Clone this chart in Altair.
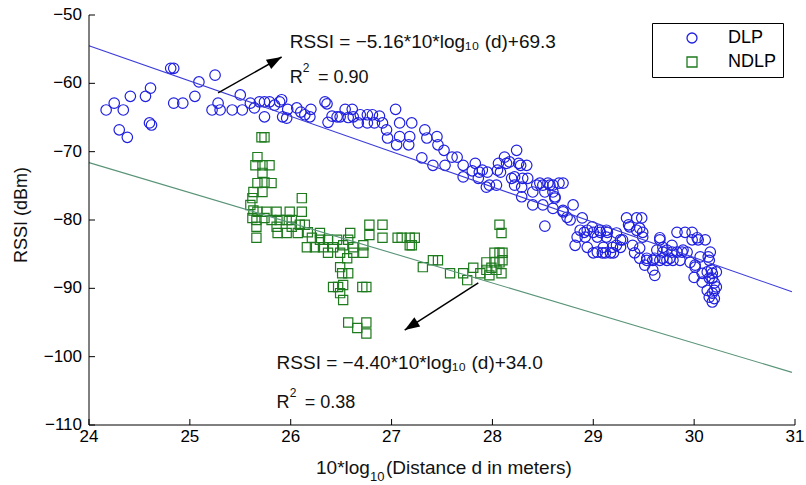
import altair as alt
import pandas as pd

# ---------------- data ----------------
dlp_points = [
    (24.17,-63.9),(24.25,-62.9),(24.34,-63.9),(24.30,-66.8),(24.38,-67.9),(24.41,-61.9),(24.56,-61.9),(24.61,-60.7),(24.60,-65.8),(24.62,-66.1),
    (24.81,-57.8),(24.84,-57.8),(24.84,-62.9),(24.93,-62.9),(25.05,-61.9),(25.09,-59.8),(25.25,-58.8),(25.22,-63.9),(25.28,-62.9),(25.30,-63.9),
    (25.42,-63.9),(25.50,-61.7),(25.52,-63.9),(25.60,-62.9),(25.64,-63.6),(25.69,-62.7),(25.74,-62.7),(25.79,-62.7),(25.84,-63.2),(25.89,-62.7),
    (25.74,-64.9),(25.92,-64.9),(25.97,-63.8),(25.91,-62.4),(25.96,-65.1),(26.06,-63.6),(26.10,-64.2),(26.14,-64.6),(26.19,-64.9),(26.20,-63.8),
    (26.34,-62.7),(26.36,-63.0),(26.37,-65.7),(26.41,-64.8),(26.46,-64.9),(26.49,-64.9),(26.54,-63.8),(26.61,-63.8),(26.57,-65.0),(26.62,-64.9),
    (26.69,-64.6),(26.76,-64.6),(26.81,-64.6),(26.88,-64.8),(26.67,-65.8),(26.76,-65.8),(26.83,-65.8),(26.91,-65.8),(26.95,-66.8),(26.96,-68.0),
    (27.04,-63.8),(27.08,-65.8),(27.20,-65.8),(27.08,-67.8),(27.05,-69.0),(27.18,-67.8),(27.17,-69.0),(27.33,-66.8),(27.35,-68.0),(27.45,-67.8),
    (27.46,-69.0),(27.52,-69.8),(27.30,-70.9),(27.41,-72.0),(27.53,-72.0),(27.60,-70.8),(27.65,-70.8),(27.71,-72.0),(27.71,-73.7),(27.83,-71.7),
    (27.80,-72.8),(27.90,-72.7),(27.86,-73.9),(27.94,-75.2),(28.04,-74.9),(28.05,-72.7),(28.14,-71.7),(28.24,-69.8),(28.28,-72.0),(28.34,-72.0),
    (28.19,-73.9),(28.30,-73.9),(28.35,-73.9),(28.29,-75.2),(28.44,-74.9),(28.50,-74.9),(28.57,-74.9),(28.60,-74.9),(28.40,-75.9),(28.29,-76.6),
    (28.62,-76.6),(28.40,-77.8),(28.60,-78.3),(28.80,-77.8),(28.12,-70.8),(28.06,-71.7),(28.17,-71.5),(28.26,-71.7),(27.87,-73.0),(27.95,-73.0),
    (28.08,-73.0),(28.22,-73.7),(27.97,-74.9),(28.22,-74.9),(28.47,-74.6),(28.55,-74.6),(28.66,-74.6),(28.70,-74.6),(28.52,-75.9),(28.60,-75.9),
    (28.50,-77.8),(28.70,-78.6),(28.74,-79.6),(28.77,-80.0),(28.89,-79.7),(28.52,-80.9),(28.87,-81.5),(28.94,-81.5),(28.99,-81.0),(29.06,-81.5),
    (29.13,-81.5),(28.84,-82.5),(28.92,-82.5),(29.04,-82.5),(29.13,-82.5),(29.23,-81.9),(29.33,-79.7),(29.43,-79.7),(29.36,-81.0),(29.46,-81.2),
    (29.49,-82.5),(29.29,-82.9),(29.39,-83.7),(28.82,-83.7),(28.94,-84.0),(29.04,-84.7),(29.12,-84.8),(29.20,-84.8),(29.10,-84.0),(29.23,-83.7),
    (29.66,-82.6),(29.69,-84.0),(29.63,-84.4),(29.48,-79.7),(29.49,-81.8),(29.46,-84.1),(29.46,-85.6),(29.53,-85.9),(29.59,-85.9),(29.66,-85.9),
    (29.73,-85.9),(29.79,-85.9),(29.86,-85.9),(29.59,-87.3),(29.66,-82.9),(29.69,-84.7),(29.78,-84.7),(29.83,-84.7),(29.88,-84.7),(29.93,-84.7),
    (29.78,-83.7),(29.83,-81.8),(29.91,-81.8),(29.98,-81.8),(30.04,-82.9),(30.11,-82.9),(29.98,-82.9),(29.96,-86.2),(30.01,-86.6),(30.06,-85.4),
    (30.14,-85.4),(30.16,-84.7),(30.00,-88.4),(30.08,-87.8),(30.08,-89.1),(30.13,-87.6),(30.15,-88.5),(30.18,-88.5),(30.20,-89.2),(30.13,-90.3),
    (30.20,-90.3),(30.15,-91.3),(30.18,-92.0),(30.17,-87.3),(30.22,-87.6),(28.62,-76.8),(28.70,-78.8),(28.91,-81.8),(29.00,-81.8),(29.07,-81.8),
    (29.14,-81.8),(29.00,-84.8),(29.09,-84.8),(29.17,-84.8),(29.19,-84.0),(29.27,-84.0),(29.27,-82.9),(29.35,-80.7),(29.43,-81.5),(29.41,-84.8),
    (29.53,-85.6),(29.61,-85.6),(29.69,-85.6),(29.76,-85.6),(29.51,-86.6),(29.61,-88.1),(29.73,-84.4),(30.03,-82.6),(29.89,-84.4),(30.01,-86.9),
    (30.15,-85.9),(30.18,-87.8),(30.18,-90.7),(30.20,-91.5),(30.22,-89.8),
]
ndlp_points = [
    (25.71,-67.9),(25.74,-67.9),(25.67,-70.8),(25.65,-72.0),(25.72,-72.0),(25.79,-72.0),(25.72,-73.1),(25.74,-74.5),(25.67,-74.6),(25.81,-74.6),
    (25.63,-75.9),(25.62,-76.8),(25.72,-75.9),(25.60,-77.8),(26.11,-76.8),(25.63,-78.6),(25.62,-79.7),(25.67,-78.8),(25.76,-78.8),(25.86,-78.8),
    (25.99,-78.8),(26.11,-78.8),(25.66,-80.0),(25.74,-79.7),(25.81,-80.0),(25.89,-80.0),(25.96,-80.0),(26.01,-80.0),(25.66,-81.0),(25.86,-81.0),
    (26.01,-81.0),(26.09,-80.7),(26.14,-80.7),(25.87,-81.9),(25.96,-81.9),(26.07,-81.9),(25.66,-82.6),(26.17,-81.8),(26.21,-82.6),(26.29,-81.9),
    (26.29,-82.9),(26.37,-82.9),(26.46,-82.9),(26.16,-84.0),(26.24,-84.0),(26.32,-84.0),(26.42,-84.0),(26.52,-83.7),(26.59,-81.9),(26.57,-82.9),
    (26.62,-84.0),(26.72,-83.7),(26.78,-82.2),(26.78,-80.7),(26.91,-80.7),(26.91,-82.6),(27.06,-82.6),(27.18,-82.6),(27.20,-83.7),(26.37,-84.8),
    (26.49,-84.8),(26.62,-84.8),(26.72,-84.8),(26.49,-86.9),(26.56,-85.6),(26.51,-87.8),(26.57,-87.8),(26.42,-89.8),(26.47,-89.8),(26.52,-89.5),
    (26.49,-90.7),(26.52,-91.7),(26.71,-89.8),(26.75,-89.8),(26.57,-95.0),(26.66,-95.8),(26.75,-95.0),(26.75,-96.6),
    (27.10,-82.6),(27.18,-83.7),(27.23,-82.6),(27.31,-86.9),(27.41,-85.9),(27.46,-85.9),(27.58,-87.8),(27.71,-87.8),(27.75,-88.8),(27.81,-87.0),
    (27.88,-87.8),(27.94,-86.2),(27.94,-87.3),(27.99,-87.0),(28.02,-84.8),(28.07,-84.8),(28.10,-84.8),(28.02,-86.2),(28.07,-86.2),(28.10,-85.9),
    (27.97,-88.1),(28.09,-87.8),(28.07,-80.7),(28.09,-81.9),(28.04,-87.3),
]
series_names = ["DLP", "NDLP"]
series_colors = ["#2020e0", "#1d7a1d"]
series_shapes = ["circle", "square"]

fit_x = [24.0, 30.97]
fit_dlp_y = [-54.5, -90.5]
fit_ndlp_y = [-71.6, -102.3]

x_ticks = [24, 25, 26, 27, 28, 29, 30, 31]
y_ticks = [-110, -100, -90, -80, -70, -60, -50]

# arrows: (tail x, tail y, tip x, tip y)
arrow1 = (25.28, -61.4, 25.91, -56.15)
arrow2 = (27.86, -89.2, 27.13, -96.1)

FONT = "Liberation Sans"
W, H = 706, 410

xs = alt.Scale(domain=[24, 31], nice=False, zero=False)
ys = alt.Scale(domain=[-110, -50], nice=False, zero=False)
cs = alt.Scale(domain=series_names, range=series_colors)
ss = alt.Scale(domain=series_names, range=series_shapes)

leg = alt.Legend(title=None, orient="none", legendX=563, legendY=8, padding=6,
                 symbolOffset=25, labelOffset=27, fillColor="white", strokeColor="black",
                 labelFontSize=18, labelFont=FONT, labelColor="black", symbolSize=100,
                 symbolStrokeWidth=1.3, rowPadding=6, labelLimit=200)

df_dlp = pd.DataFrame({"x": [p[0] for p in dlp_points], "y": [p[1] for p in dlp_points], "series": "DLP"})
df_ndlp = pd.DataFrame({"x": [p[0] for p in ndlp_points], "y": [p[1] for p in ndlp_points], "series": "NDLP"})

X = lambda f: alt.X(f, scale=xs, axis=None)
Y = lambda f: alt.Y(f, scale=ys, axis=None)

pts_dlp = alt.Chart(df_dlp).mark_point(filled=False, size=110, strokeWidth=1.2, opacity=1).encode(
    x=X("x:Q"), y=Y("y:Q"),
    color=alt.Color("series:N", scale=cs, legend=leg),
    shape=alt.Shape("series:N", scale=ss, legend=leg),
)
pts_ndlp = alt.Chart(df_ndlp).mark_point(filled=False, size=85, strokeWidth=1.2, opacity=1).encode(
    x=X("x:Q"), y=Y("y:Q"),
    color=alt.Color("series:N", scale=cs, legend=leg),
    shape=alt.Shape("series:N", scale=ss, legend=leg),
)

def fit_line(ys_vals, color):
    d = pd.DataFrame({"x": fit_x, "y": ys_vals})
    return alt.Chart(d).mark_line(color=color, strokeWidth=1.1).encode(x=X("x:Q"), y=Y("y:Q"))

line_dlp = fit_line(fit_dlp_y, "#3a3ad8")
line_ndlp = fit_line(fit_ndlp_y, "#5a9478")

# ---- axes drawn by hand (domain, inward ticks, labels) ----
one = pd.DataFrame({"k": [0]})
dom_x = alt.Chart(one).mark_rule(color="black", strokeWidth=1).encode(
    x=alt.value(0), x2=alt.value(W), y=alt.value(H))
dom_y = alt.Chart(one).mark_rule(color="black", strokeWidth=1).encode(
    x=alt.value(0), y=alt.value(0), y2=alt.value(H))
df_xt = pd.DataFrame({"v": x_ticks})
df_yt = pd.DataFrame({"v": y_ticks})
xt = alt.Chart(df_xt).mark_rule(color="black", strokeWidth=1).encode(
    x=X("v:Q"), y=alt.value(H), y2=alt.value(H - 6))
yt = alt.Chart(df_yt).mark_rule(color="black", strokeWidth=1).encode(
    y=Y("v:Q"), x=alt.value(0), x2=alt.value(6))
xl = alt.Chart(df_xt).mark_text(font=FONT, fontSize=17, color="black", align="center",
                                baseline="top").encode(
    x=X("v:Q"), y=alt.value(H + 4), text=alt.Text("v:Q", format="d"))
yl = alt.Chart(df_yt).mark_text(font=FONT, fontSize=17, color="black", align="right",
                                baseline="middle").encode(
    y=Y("v:Q"), x=alt.value(-7), text=alt.Text("v:Q", format="d"))

def arrow(a, angle):
    tx, ty, hx, hy = a
    d = pd.DataFrame({"x": [tx], "y": [ty], "x2": [hx], "y2": [hy]})
    shaft = alt.Chart(d).mark_rule(color="black", strokeWidth=1.5).encode(
        x=X("x:Q"), y=Y("y:Q"), x2="x2:Q", y2="y2:Q")
    head = alt.Chart(d).mark_point(shape="M0,0L-0.36,1L0.36,1Z", filled=True, color="black",
                                   size=900, angle=angle, opacity=1).encode(
        x=X("x2:Q"), y=Y("y2:Q"))
    return shaft + head

def txt(x, y, s, size=18, **kw):
    d = pd.DataFrame({"x": [x], "y": [y]})
    return alt.Chart(d).mark_text(text=s, font=FONT, fontSize=size, color="#111111",
                                  align="left", baseline="alphabetic", **kw).encode(
        x=X("x:Q"), y=Y("y:Q"))

def ptxt(px, py, s, size=17, **kw):
    return alt.Chart(one).mark_text(text=s, font=FONT, fontSize=size, color="#111111", **kw).encode(
        x=alt.value(px), y=alt.value(py))

SUB10 = "\u2081\u2080"
ann = (
    txt(25.99, -54.83, "RSSI = \u22125.16*10*log" + SUB10 + "  (d)+69.3", 19)
    + txt(25.99, -59.96, "R") + txt(26.12, -58.3, "2", 12) + txt(26.27, -59.96, "= 0.90")
    + txt(25.86, -101.83, "RSSI = \u22124.40*10*log" + SUB10 + "  (d)+34.0", 19)
    + txt(25.86, -107.54, "R") + txt(25.99, -105.9, "2", 12) + txt(26.14, -107.54, "= 0.38")
)

titles = (
    ptxt(227, 459, "10*log", 19, align="left", baseline="alphabetic")
    + ptxt(281, 466, "10", 13, align="left", baseline="alphabetic")
    + ptxt(297, 459, "(Distance d in meters)", 19, align="left", baseline="alphabetic")
    + ptxt(-67, 200, "RSSI (dBm)", 18, align="center", baseline="middle", angle=270)
)

chart = alt.layer(
    pts_dlp, pts_ndlp, line_dlp, line_ndlp, dom_x, dom_y, xt, yt, xl, yl,
    arrow(arrow1, 60.6), arrow(arrow2, 237.2), ann, titles,
).properties(
    width=W, height=H,
    autosize=alt.AutoSizeParams(type="none"),
    padding={"left": 89, "top": 15, "right": 11, "bottom": 60},
).configure(background="white").configure_view(stroke=None)

chart.save("out.html", embed_options={"renderer": "svg", "actions": False})
